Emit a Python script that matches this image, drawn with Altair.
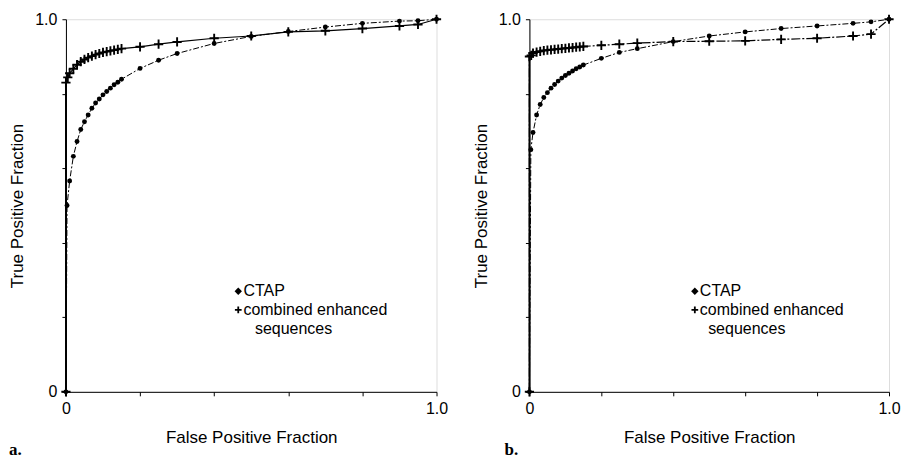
import altair as alt
import pandas as pd

# ---- Panel a ----
a_ctap_x = [0, 0.003, 0.01, 0.02, 0.03, 0.04, 0.05, 0.06, 0.07, 0.08, 0.09, 0.10, 0.11, 0.12,
            0.13, 0.14, 0.15, 0.2, 0.25, 0.3, 0.4, 0.5, 0.6, 0.7, 0.8, 0.9, 0.95, 1.0]
a_ctap_y = [0, 0.50, 0.566, 0.632, 0.672, 0.704, 0.725, 0.743, 0.761, 0.775, 0.786, 0.797, 0.806, 0.815,
            0.824, 0.831, 0.839, 0.868, 0.890, 0.908, 0.935, 0.954, 0.967, 0.979, 0.989, 0.995, 0.996, 1.0]
a_comb_x = [0, 0, 0.005, 0.01, 0.02, 0.03, 0.04, 0.05, 0.06, 0.07, 0.08, 0.09, 0.10, 0.11, 0.12, 0.13,
            0.14, 0.15, 0.2, 0.25, 0.3, 0.4, 0.5, 0.6, 0.7, 0.8, 0.9, 0.95, 1.0]
a_comb_y = [0, 0.83, 0.844, 0.855, 0.867, 0.878, 0.886, 0.892, 0.897, 0.901, 0.905, 0.908, 0.911, 0.913,
            0.915, 0.917, 0.919, 0.921, 0.926, 0.933, 0.939, 0.949, 0.955, 0.966, 0.969, 0.975, 0.982,
            0.986, 1.0]

# ---- Panel b ----
b_ctap_x = [0, 0.004, 0.01, 0.02, 0.03, 0.04, 0.05, 0.06, 0.07, 0.08, 0.09, 0.10, 0.11, 0.12, 0.13,
            0.14, 0.15, 0.2, 0.25, 0.3, 0.4, 0.5, 0.6, 0.7, 0.8, 0.9, 0.95, 1.0]
b_ctap_y = [0, 0.650, 0.696, 0.743, 0.771, 0.790, 0.803, 0.815, 0.825, 0.834, 0.842, 0.849, 0.855,
            0.861, 0.867, 0.872, 0.877, 0.895, 0.911, 0.921, 0.940, 0.955, 0.966, 0.975, 0.982, 0.989,
            0.993, 1.0]
b_comb_x = [0, 0, 0.005, 0.01, 0.02, 0.03, 0.04, 0.05, 0.06, 0.07, 0.08, 0.09, 0.10, 0.11, 0.12, 0.13,
            0.14, 0.15, 0.2, 0.25, 0.3, 0.4, 0.5, 0.6, 0.7, 0.8, 0.9, 0.95, 1.0]
b_comb_y = [0, 0.90, 0.903, 0.909, 0.912, 0.914, 0.916, 0.917, 0.918, 0.919, 0.920, 0.921, 0.922,
            0.923, 0.924, 0.925, 0.926, 0.927, 0.930, 0.933, 0.936, 0.940, 0.941, 0.942, 0.946, 0.949,
            0.955, 0.960, 1.0]

legend_labels = ["CTAP", "combined enhanced", "sequences"]
tick_values = [0, 0.1, 0.2, 0.3, 0.4, 0.5, 0.6, 0.7, 0.8, 0.9, 1.0]
panel_labels = ["a.", "b."]

FONT = "Liberation Sans"
PLUS = "M-1,0L1,0M0,-1L0,1"


def panel(cx, cy, px, py, label, w, h, leg_x, seq_x, label_x, comb_dash):
    dc = pd.DataFrame({"x": cx, "y": cy, "i": list(range(len(cx)))})
    dp = pd.DataFrame({"x": px, "y": py, "i": list(range(len(px)))})
    lab = "datum.value == 0 ? '0' : datum.value == 0.5 ? '0.5' : datum.value == 1 ? '1.0' : ''"
    xs = alt.X("x:Q", scale=alt.Scale(domain=[0, 1], nice=False, zero=False),
               axis=alt.Axis(values=tick_values, labelExpr=lab, title="False Positive Fraction",
                             grid=False, tickSize=4, labelPadding=5, titlePadding=13,
                             labelFontSize=16, titleFontSize=17, labelFont=FONT, titleFont=FONT,
                             titleFontWeight="normal", domainColor="black", tickColor="black",
                             labelColor="black", titleColor="black", labelFlush=False))
    ys = alt.Y("y:Q", scale=alt.Scale(domain=[0, 1], nice=False, zero=False),
               axis=alt.Axis(values=tick_values, labelExpr=lab, title="True Positive Fraction",
                             grid=False, tickSize=4, labelPadding=5, titlePadding=7,
                             minExtent=32, maxExtent=32,
                             labelFontSize=16, titleFontSize=17, labelFont=FONT, titleFont=FONT,
                             titleFontWeight="normal", domainColor="black", tickColor="black",
                             labelColor="black", titleColor="black", labelFlush=False))
    base_c = alt.Chart(dc)
    base_p = alt.Chart(dp)
    c_line = base_c.mark_line(color="black", strokeWidth=1, strokeDash=[6, 2, 2, 2]).encode(
        x=xs, y=ys, order="i:Q")
    c_pts = base_c.mark_circle(color="black", size=24, opacity=1).encode(x="x:Q", y="y:Q")
    p_line_kw = dict(color="black", strokeWidth=1.2)
    if comb_dash:
        p_line_kw["strokeDash"] = [9, 2, 2, 2]
    p_line = base_p.mark_line(**p_line_kw).encode(x="x:Q", y="y:Q", order="i:Q")
    p_pts = base_p.mark_point(shape=PLUS, size=85, strokeWidth=1.9, filled=False,
                              color="black", opacity=1).encode(x="x:Q", y="y:Q")
    # vertical start segment is drawn solid
    seg = alt.Chart(pd.DataFrame({"x": [0, 0], "y": [0, max(py[1], cy[1])], "i": [0, 1]})).mark_line(
        color="black", strokeWidth=1.8).encode(x="x:Q", y="y:Q", order="i:Q")

    leg_sym = alt.Chart(pd.DataFrame({"x": [leg_x, leg_x], "y": [0.27, 0.22], "s": ["d", "p"]}))
    diam = leg_sym.transform_filter("datum.s == 'd'").mark_point(
        shape="diamond", filled=True, size=55, color="black", opacity=1).encode(x="x:Q", y="y:Q")
    plus = leg_sym.transform_filter("datum.s == 'p'").mark_point(
        shape=PLUS, filled=False, size=45, strokeWidth=1.8, color="black", opacity=1).encode(x="x:Q", y="y:Q")
    leg_txt = alt.Chart(pd.DataFrame({
        "x": [leg_x + 0.014, leg_x + 0.014, seq_x],
        "y": [0.27, 0.22, 0.169],
        "t": legend_labels})).mark_text(
        align="left", baseline="middle", fontSize=16, font=FONT, color="black").encode(
        x="x:Q", y="y:Q", text="t:N")
    plab = alt.Chart(pd.DataFrame({"t": [label]})).mark_text(
        align="left", baseline="alphabetic", fontSize=17, font="Liberation Serif",
        fontWeight="bold", color="black").encode(
        x=alt.value(label_x), y=alt.value(h + 63), text="t:N")
    return alt.layer(seg, c_line, p_line, c_pts, p_pts, diam, plus, leg_txt, plab).properties(
        width=w, height=h)


pa = panel(a_ctap_x, a_ctap_y, a_comb_x, a_comb_y, panel_labels[0], 371, 373, 0.465, 0.51, -57, False)
pb = panel(b_ctap_x, b_ctap_y, b_comb_x, b_comb_y, panel_labels[1], 360, 373, 0.46, 0.497, -25, True)

chart = alt.hconcat(pa, pb, spacing=23).properties(
    padding={"left": 0, "top": 2, "right": 0, "bottom": 0}
).configure_view(stroke="black", strokeWidth=1).configure(background="white")

chart.save("out.html", embed_options={"renderer": "svg", "actions": False})
